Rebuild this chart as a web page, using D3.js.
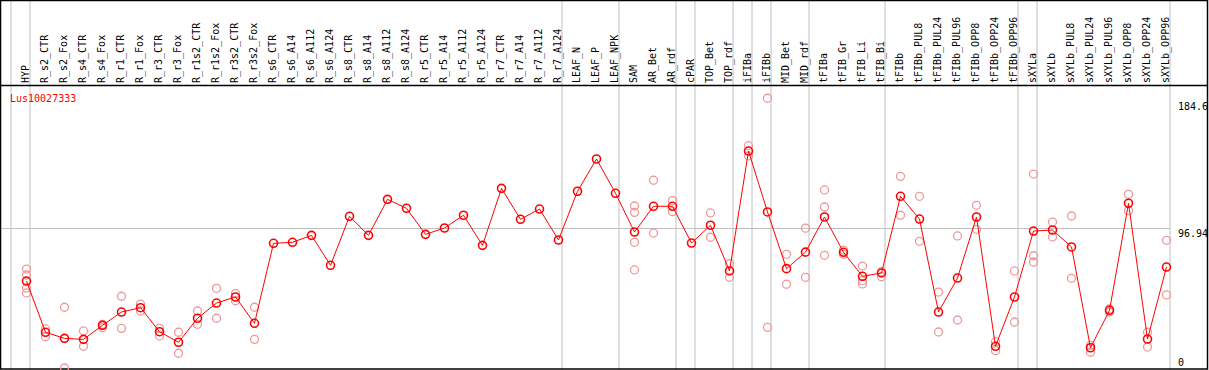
<!DOCTYPE html>
<html>
<head>
<meta charset="utf-8">
<script src="https://cdn.jsdelivr.net/npm/d3@7"></script>
<style>
  body { margin: 0; background: #fff; }
  svg text { font-family: "DejaVu Sans Mono", monospace; font-size: 10px; }
</style>
</head>
<body>
<div class="container"></div>
<script>
const geneName = "Lus10027333"

const samples = ["HYP","R_s2_CTR","R_s2_Fox","R_s4_CTR","R_s4_Fox","R_r1_CTR","R_r1_Fox","R_r3_CTR","R_r3_Fox",
  "R_r1s2_CTR","R_r1s2_Fox","R_r3s2_CTR","R_r3s2_Fox","R_s6_CTR","R_s6_A14","R_s6_A112","R_s6_A124",
  "R_s8_CTR","R_s8_A14","R_s8_A112","R_s8_A124","R_r5_CTR","R_r5_A14","R_r5_A112","R_r5_A124",
  "R_r7_CTR","R_r7_A14","R_r7_A112","R_r7_A124","LEAF_N","LEAF_P","LEAF_NPK","SAM","AR_Bet","AR_rdf",
  "cPAR","TOP_Bet","TOP_rdf","iFIBa","iFIBb","MID_Bet","MID_rdf","tFIBa","tFIB_Gr","tFIB_Li","tFIB_Bi",
  "tFIBb","tFIBb_PUL8","tFIBb_PUL24","tFIBb_PUL96","tFIBb_OPP8","tFIBb_OPP24","tFIBb_OPP96",
  "sXYLa","sXYLb","sXYLb_PUL8","sXYLb_PUL24","sXYLb_PUL96","sXYLb_OPP8","sXYLb_OPP24","sXYLb_OPP96"]

const means = [60.1,24.7,20.5,19.8,29.5,38.7,41.7,25.1,17.8,
  34.4,44.9,49.1,30.9,86.2,86.9,91.7,71.0,
  104.9,91.7,116.6,110.4,92.4,96.8,105.6,84.8,
  124.2,102.8,109.9,88.5,122.2,144.5,120.8,94.0,111.8,111.8,
  86.4,98.7,67.1,150.0,107.9,68.7,80.1,104.4,80.0,63.4,65.7,
  118.7,103.0,38.7,62.2,104.4,15.0,49.1,
  94.7,95.4,83.7,14.0,39.9,113.9,20.0,69.8]

const replicates = [[68.4,64.3,55.3,51.9],[27.0,21.6],[42.0,0],[25.6,15.0],[27.9,30.2],[49.6,27.4],[44.2,39.4],[27.4,22.1],[24.7,10.2],
  [39.4,30.2],[55.1,34.4],[51.4,46.5],[42.0,19.8],[],[],[],[],
  [],[],[],[],[],[],[],[],
  [],[],[],[],[],[],[],[112.0,107.6,86.9,67.8],[129.8,93.3],[115.7,108.1],
  [],[107.2,90.4],[72.1,62.7],[153.7,146.6],[186.5,28.1],[78.6,57.9],[96.7,62.7],[123.1,111.3,77.9],[81.5,78.6],[70.5,60.4,58.1],[63.1,66.6],
  [132.5,105.6],[118.7,87.6],[52.5,24.9],[91.3,33.2],[112.5,95.9],[18.2,12.0],[67.1,31.8],
  [134.1,77.6,73.3],[100.9,90.6],[105.1,62.0],[15.7,10.9],[40.8,38.7],[120.1,108.8],[24.7,14.5],[88.3,50.5]]

// group boundaries (index where a new group starts)
const groupStarts = [0,1,29,32,35,36,38,39,40,42,46,53,54,61]
const yTicks = [184.6, 96.94, 0]

const width = 1209
const height = 370
const headerH = 85

const svg = d3.select(".container").append("svg")
  .attr("width", width)
  .attr("height", height)

const xScale = d3.scaleBand()
  .domain(samples)
  .range([11, 1170])

const xPos = d => xScale(d) + 15.5

const yScale = d3.scaleLinear()
  .domain([0, 184.6])
  .range([368, 101])

// gridlines
svg.selectAll(".vgrid")
  .data(groupStarts)
  .enter()
  .append("line")
  .attr("x1", i => 11 + i * xScale.step())
  .attr("x2", i => 11 + i * xScale.step())
  .attr("y1", 0)
  .attr("y2", height)
  .attr("stroke", "#c0c0c0")

svg.append("line")
  .attr("x1", 0)
  .attr("x2", 1170)
  .attr("y1", Math.round(yScale(96.94)) + 0.5)
  .attr("y2", Math.round(yScale(96.94)) + 0.5)
  .attr("stroke", "#c0c0c0")

// frame
svg.append("rect")
  .attr("x", 0.5).attr("y", 0.5)
  .attr("width", 1207).attr("height", 368.5)
  .attr("fill", "none").attr("stroke", "#000").attr("stroke-width", 1.5)

svg.append("line")
  .attr("x1", 0).attr("x2", 1208)
  .attr("y1", headerH + 0.5).attr("y2", headerH + 0.5)
  .attr("stroke", "#000").attr("stroke-width", 1.5)

// sample labels
svg.selectAll(".lbl")
  .data(samples)
  .enter()
  .append("text")
  .attr("class", "lbl")
  .attr("transform", d => `translate(${xPos(d) - 1},83) rotate(-90)`)
  .attr("dy", "0.35em")
  .attr("text-anchor", "start")
  .text(d => d)

// y labels
svg.selectAll(".ylbl")
  .data(yTicks)
  .enter()
  .append("text")
  .attr("x", 1178)
  .attr("y", d => d === 0 ? 366 : yScale(d) + 9)
  .text(d => d)

svg.append("text")
  .attr("x", 10)
  .attr("y", 102)
  .attr("fill", "#ff0000")
  .text(geneName)

// replicate points
const reps = []
replicates.forEach((arr, i) => arr.forEach(v => reps.push({ s: samples[i], v: v })))

svg.selectAll(".rep")
  .data(reps)
  .enter()
  .append("circle")
  .attr("cx", d => xPos(d.s))
  .attr("cy", d => yScale(d.v))
  .attr("r", 4)
  .attr("fill", "none")
  .attr("stroke", "#ee9999")
  .attr("stroke-width", 1.3)

// mean line
const line = d3.line()
  .x((d, i) => xPos(samples[i]))
  .y(d => yScale(d))

svg.append("path")
  .datum(means)
  .attr("d", line)
  .attr("fill", "none")
  .attr("stroke", "#ff0000")
  .attr("stroke-width", 1)

svg.selectAll(".mean")
  .data(means)
  .enter()
  .append("circle")
  .attr("cx", (d, i) => xPos(samples[i]))
  .attr("cy", d => yScale(d))
  .attr("r", 4)
  .attr("fill", "none")
  .attr("stroke", "#ff0000")
  .attr("stroke-width", 1.6)
</script>
</body>
</html>
